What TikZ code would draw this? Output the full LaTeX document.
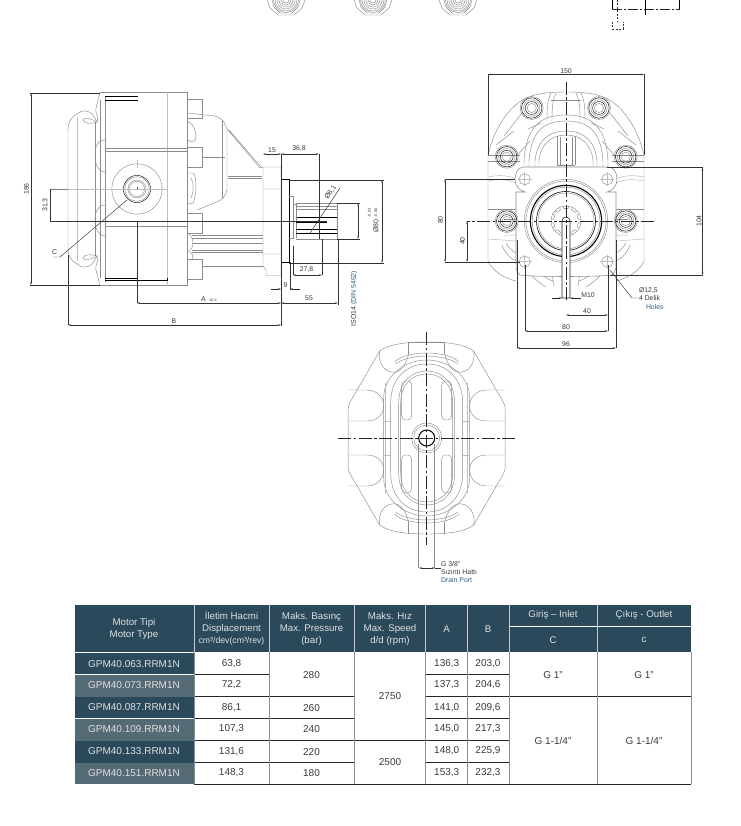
\documentclass[tikz,border=0pt]{standalone}
\usepackage{fontspec}
\setmainfont{Liberation Sans}
\usetikzlibrary{arrows.meta}
\definecolor{hdr}{HTML}{2A495B}
\definecolor{alt}{HTML}{546A74}
\definecolor{ln}{HTML}{8C8C8C}
\definecolor{lnl}{HTML}{BDBDBD}
\definecolor{tx}{HTML}{3A3A3A}
\definecolor{blu}{HTML}{2F5F80}
\tikzset{
 every node/.style={inner sep=0pt,outer sep=0pt,text=tx},
 part/.style={draw=ln,line width=.45pt},
 partl/.style={draw=lnl,line width=.5pt},
 bk/.style={draw=black,line width=.6pt},
 ext/.style={draw=black!80,line width=.45pt},
 dimn/.style={draw=black!80,line width=.45pt,{Stealth[length=3pt,width=1.6pt]}-{Stealth[length=3pt,width=1.6pt]}},
 cl/.style={draw=black!85,line width=.6pt,dash pattern=on 13pt off 2.5pt on 2.5pt off 2.5pt},
 dt/.style={font=\fontsize{6.9}{7}\selectfont},
 dts/.style={font=\fontsize{3.8}{4}\selectfont},
 th/.style={font=\fontsize{9.7}{12}\selectfont,text=white!88!black,align=center},
 td/.style={font=\fontsize{10}{11}\selectfont,text=tx,align=center},
 tn/.style={font=\fontsize{10}{11}\selectfont,text=white!88!black},
 grid/.style={draw=black!85,line width=.7pt},
 gridv/.style={draw=black!45,line width=.9pt},
 bolt/.pic={
  \draw[part] (0,0) circle (11.5);
  \draw[bk,line width=.45pt] (0,0) circle (10.2);
  \draw[part] (0,0) circle (8.2);
  \draw[bk,line width=.4pt] (0,0) circle (6.4);
  \draw[part] (0,0) circle (4.6);
 },
}
\begin{document}
\begin{tikzpicture}[x=1pt,y=-1pt]
\useasboundingbox (0,0) rectangle (740,826);
\fill[white] (0,0) rectangle (740,826);
\begin{scope}
\clip (0,0) rectangle (740,826);
% ---------- clipped fragments at the top
\foreach \cx in {286,373,458}{
 \foreach \r in {3,5,7,9,11,12.5}{\draw[part] (\cx,0) circle (\r);}
 \draw[part] (\cx-19,0) -- (\cx-16,8) -- (\cx-8,15) -- (\cx+8,15) -- (\cx+16,8) -- (\cx+19,0);
 \draw[part] (\cx-14,0) -- (\cx-12,7) -- (\cx-6,13) -- (\cx+6,13) -- (\cx+12,7) -- (\cx+14,0);
}
\draw[bk] (612,0) -- (612,9);
\draw[bk] (679.5,0) -- (679.5,9);
\draw[cl,dash pattern=on 10pt off 2pt on 2pt off 2pt] (612,9) -- (680,9);
\draw[bk] (645.5,0) -- (645.5,15);
\draw[draw=black!80,line width=.5pt,dash pattern=on 2pt off 1.5pt] (617,0) -- (617,22);
\draw[draw=black!80,line width=.5pt,dash pattern=on 2pt off 1.5pt] (612,22) -- (612,29) -- (623,29) -- (623,22);
% ---------- side view
\draw[part] (100,92.5) -- (187,92.5) -- (187,285.5) -- (100,285.5);
\draw[partl] (167,92.5) -- (167,285.5);
\draw[part] (105,96) -- (105,282);
\draw[part] (105,148) -- (187,148) (105,151.5) -- (187,151.5) (105,226) -- (187,226);
\draw[bk] (105,96) -- (138,96) (105,100.5) -- (138,100.5);
\draw[bk] (105,278.5) -- (138,278.5) (105,280.5) -- (167,280.5) (167,278) -- (167,281);
\draw[part] (100,92.5) -- (96,108) .. controls (95,112) and (97,114) .. (98,118) -- (97,122)
  .. controls (92,112) and (88,109) .. (80,112) -- (74,116) .. controls (70,120) and (68,123) .. (68,130)
  -- (68,248) .. controls (68,255) and (70,258) .. (74,262) -- (80,266)
  .. controls (88,269) and (92,266) .. (97,256) -- (98,260) .. controls (97,264) and (95,266) .. (96,270) -- (100,285.5);
\draw[partl] (77,117) -- (77,261);
\draw[part] (95,122) -- (95,256) (100,100) -- (100,278);
\draw[part] (97,122) .. controls (88,117) and (84,118) .. (83,120) .. controls (84,124) and (92,124) .. (97,122);
\draw[part] (97,256) .. controls (88,261) and (84,260) .. (83,258) .. controls (84,254) and (92,254) .. (97,256);
\draw[part] (105,140) .. controls (98,140) and (95,146) .. (95,155) .. controls (95,164) and (98,172) .. (105,172);
\draw[part] (105,205) .. controls (98,205) and (95,212) .. (95,220) .. controls (95,228) and (98,236) .. (105,236);
\draw[part] (137,189) circle (25.2);
\draw[bk,line width=.4pt] (137,189) circle (13.6);
\draw[part] (137,189) circle (12.3);
\draw[part] (137,189) circle (9);
\draw[part] (137,189) circle (7.6);
\draw[draw=black!70,line width=.4pt] (135.5,189) -- (138.5,189) (137,187.5) -- (137,190.5);
% bosses
\foreach \a/\b in {99/118,147/167,213/233,259/279}{\draw[part] (187,\a) -- (202,\a) -- (202,\b) -- (187,\b);}
\draw[part] (187,113) -- (205,115) .. controls (216,115) and (221,118) .. (224,122) -- (227,129) -- (227,190)
 .. controls (226,196) and (222,200) .. (217,202) .. controls (210,204) and (205,207) .. (197,210);
\draw[part] (222,120) -- (222,198) (202,157) -- (225,157);
\draw[part] (227,129) -- (260,168) (229,130) -- (262,168);
\draw[part] (188,122) .. controls (192,122) and (195,128) .. (196,136) .. controls (197,142) and (190,143) .. (188,140);
\draw[part] (188,173) -- (193,173) .. controls (197,176) and (197,195) .. (193,203) -- (188,204);
\draw[part] (191,178) .. controls (194,183) and (194,192) .. (191,198);
\draw[part] (187,232) .. controls (192,235) and (196,245) .. (190,250) (187,250) .. controls (192,252) and (196,258) .. (190,260);
\draw[part] (228,176) -- (262,176) (228,178) -- (262,178);
\draw[part] (192,235) -- (263,235) (192,238) -- (263,238) (192,243) -- (263,243) (192,250) -- (263,250) (192,252) -- (263,252) (202,266) -- (263,266);
% flange and shaft
\draw[part] (263,167) -- (281,167) -- (281,275.5) -- (266,275.5) -- (266,270) -- (263,266) -- (263,167);
\draw[part] (263,167) -- (260,168) (263,189) -- (281,189) (263,254) -- (281,254);
\draw[bk] (281,179.5) -- (289,179.5) (281,262.5) -- (289,262.5) (289,179.5) -- (289,262.5);
\draw[part] (289,196) -- (293,196) -- (293,238) -- (289,238) (293,204) -- (296,204) -- (296,238);
\draw[part] (296,203) -- (337,203) -- (337,239) -- (296,239);
\draw[part] (296,206) -- (337,206) (296,209) -- (337,209);
\draw[bk] (296,222) -- (327,222) (296,229) -- (337,229) (296,233.5) -- (337,233.5);
\draw[bk,line width=.9pt] (297,217.5) -- (337,217.5);
\draw[part] (319,203) -- (319,239);
% centre lines
\draw[partl] (68,189) -- (168,189) (137,160) -- (137,168);
% dims side
\draw[ext] (30,93) -- (100,93) (30,285) -- (100,285);
\draw[dimn] (31,93) -- (31,285);
\node[dt,rotate=90] (d186) at (26.5,189) {186};
\draw[ext] (50,221) -- (327,221);
\draw[draw=black!50,line width=.45pt] (50,189) -- (68,189);
\draw[ext] (50,189) -- (50,221);
\node[dt,rotate=90] (d313) at (45.5,205) {31,3};
\draw[ext] (127,200) -- (60,257) -- (53,257);
\node[dt] (dC) at (54.5,252.5) {C};
\draw[ext] (281,154) -- (281,326);
\draw[dimn] (263,154) -- (281,154);
\node[dt] (d15) at (272,150) {15};
\draw[dimn] (281,154) -- (319,154);
\draw[ext] (319,154) -- (319,239) (322,239) -- (322,275);
\node[dt] (d368) at (299,149) {36,8};
\draw[ext] (293,246) -- (293,275);
\draw[dimn] (293,275) -- (322,275);
\node[dt] (d278) at (306.5,270) {27,8};
\draw[ext] (340,188) -- (310,233);
\node[dt,rotate=55] (d81) at (330.5,192.5) {Ø8,1};
\draw[ext] (289,180) -- (384,180) (289,263) -- (384,263);
\draw[dimn] (382,180) -- (382,263);
\draw[ext] (337,203) -- (360,203) (337,239) -- (360,239);
\draw[dimn] (358,203) -- (358,239);
\node[dt,rotate=90] (d80) at (376,226) {Ø80};
\node[dts,rotate=90] (d80a) at (369.5,213) {-0,03};
\node[dts,rotate=90] (d80b) at (376,213) {-0,06};
\draw[ext] (338,239) -- (338,305);
\node[dt,rotate=90] (iso) at (354,298.5) {ISO14 \textcolor{blu}{(DIN 5462)}};
\draw[ext] (290,262) -- (290,290);
\draw[draw=black!85,line width=.5pt,-{Stealth[length=3pt,width=1.6pt]}] (271,289) -- (281,289);
\draw[draw=black!85,line width=.5pt,-{Stealth[length=3pt,width=1.6pt]}] (300,289) -- (290,289);
\node[dt] (d9) at (285.5,285) {9};
\draw[ext] (137,221) -- (137,303);
\draw[dimn] (137,303) -- (281,303);
\node[dt] (dA) at (203.5,299) {A};
\node[dts] (dAt) at (213,300) {±0,4};
\draw[dimn] (281,303) -- (338,303);
\node[dt] (d55) at (309,298.5) {55};
\draw[ext] (68,255) -- (68,325);
\draw[dimn] (68,325) -- (281,325);
\node[dt] (dB) at (174,321) {B};
% ---------- front view
\begin{scope}[shift={(566,221)}]
\foreach \s in {1,-1}{\begin{scope}[xscale=\s]
 \draw[part] (0,-129) .. controls (20,-129) and (32,-127) .. (42,-122) .. controls (58,-113) and (72,-92) .. (78,-66) -- (78,40)  .. controls (74,50) and (60,58) .. (50,60);
 \draw[part] (0,-121) -- (15,-121);
 \draw[part] (10,-128) .. controls (14,-120) and (14,-110) .. (14,-100) (15,-128) .. controls (19,-120) and (19,-110) .. (19,-100);
 \draw[part] (0,-106) .. controls (25,-106) and (40,-95) .. (42,-60) -- (42,-54);
 \draw[part] (0,-100) .. controls (22,-100) and (35,-90) .. (37,-60) -- (37,-54);
 \draw[part] (0,-90) .. controls (18,-90) and (29,-80) .. (31,-60) -- (31,-54);
 \draw[part] (0,-86) .. controls (15,-86) and (26,-76) .. (27,-60) -- (27,-54);
 \draw[part] (6,-84) -- (6,-56) (9,-85) -- (9,-56) (0,-56) -- (9,-56);
 \draw[part] (25,-98) -- (38,-92) (44,-108) -- (62,-85) (52,-90) -- (70,-76) (36,-80) -- (50,-64);
 \draw[part] (46,-66) -- (78,-66) (46,-60) -- (78,-60);
 \draw[partl] (50,-42) .. controls (58,-46) and (68,-46) .. (78,-44) (50,-38) .. controls (58,-42) and (68,-42) .. (78,-40);
 \draw[part] (50,-12) -- (78,-12) (50,-2) -- (62,-2);
 \draw[partl] (50,14) -- (62,14) (50,20) -- (78,18);
 \draw[part] (50,40) .. controls (58,36) and (62,30) .. (64,24) (50,32) .. controls (54,30) and (58,26) .. (60,22);
 \draw[part] (12,65) .. controls (14,50) and (16,45) .. (17,40) (42,42) .. controls (38,52) and (30,60) .. (20,66) (32,42) .. controls (28,52) and (20,58) .. (13,60);
\end{scope}}
\draw[draw=ln,line width=.55pt,fill=white] (-42,-54) -- (42,-54) .. controls (48,-54) and (51,-48) .. (51,-42) .. controls (51,-36) and (48,-31) .. (41,-29) -- (50,-29) -- (50,42) .. controls (50,48) and (50,50) .. (46,54) .. controls (30,56) and (-30,56) .. (-46,54) .. controls (-50,50) and (-50,48) .. (-50,42) -- (-50,-29) -- (-41,-29) .. controls (-48,-31) and (-51,-36) .. (-51,-42) .. controls (-51,-48) and (-48,-54) .. (-42,-54) -- cycle;
\foreach \x/\y in {-41.3/-41.7,41.3/-41.7,-41.3/40.7,41.3/40.7}{
 \draw[part] (\x,\y) circle (5.6);
 \draw[partl] (\x-7,\y) -- (\x+7,\y) (\x,\y-7) -- (\x,\y+7);
}
\draw[part] (0,0) circle (41.7);
\draw[part] (0,0) circle (40);
\draw[bk,line width=1.1pt] (0,0) circle (35.6);
\draw[part] (0,0) circle (33.8);
\draw[bk,line width=.55pt] (0,0) circle (29.5);
\draw[part] (0,0) circle (28);
\draw[part] (0,0) circle (15);
\foreach \a in {0,36,...,324}{\draw[part] (\a+8:12.5) arc[start angle=\a+8,end angle=\a+28,radius=12.5];
 \draw[part] (\a+8:12.5) -- (\a+8:15) (\a+28:12.5) -- (\a+28:15);}
\draw[draw=black!85,line width=.6pt,fill=white] (-4,0) arc[start angle=180,end angle=360,radius=4] -- (4,77) -- (-4,77) -- cycle;
\end{scope}
\foreach \x/\y in {531.7/108,599/108,506.7/156.7,625.7/156.7,506.7/221,625.7/221}{\pic at (\x,\y) {bolt};}
\draw[cl] (566,82) -- (566,300);
\draw[cl] (654,221) -- (467,221);
\draw[ext] (488,74) -- (488,155) (644,74) -- (644,155);
\draw[dimn] (488,74.5) -- (644,74.5);
\node[dt] (d150) at (566,71) {150};
\draw[ext] (445,179) -- (515,179) (445,262) -- (520,262);
\draw[dimn] (445,179) -- (445,262);
\node[dt,rotate=90] (d80l) at (440.5,220) {80};
\draw[dimn] (467,221) -- (467,262);
\node[dt,rotate=90] (d40l) at (462.5,241) {40};
\draw[ext] (607,167.3) -- (703,167.3) (610,275) -- (703,275);
\draw[dimn] (702.5,167.3) -- (702.5,275);
\node[dt,rotate=90] (d104) at (699,221) {104};
\draw[ext] (517,240) -- (517,348) (616,240) -- (616,348);
\draw[dimn] (517,348) -- (616,348);
\node[dt] (d96) at (566,344.5) {96};
\draw[ext] (525,265) -- (525,331) (608,265) -- (608,331);
\draw[dimn] (525,331) -- (608,331);
\node[dt] (d80b2) at (566,327.5) {80};
\draw[dimn] (566,315) -- (608,315);
\node[dt] (d40b) at (587,311) {40};
\draw[draw=black!85,line width=.5pt,-{Stealth[length=3pt,width=1.6pt]}] (552,298) -- (562,298);
\draw[draw=black!85,line width=.5pt,-{Stealth[length=3pt,width=1.6pt]}] (581,298) -- (570,298);
\node[dt] (dM) at (588,295) {M10};
\draw[ext] (610,270) -- (632,298) -- (638,298);
\node[dt,anchor=west] (dh1) at (639,290) {Ø12,5};
\node[dt,anchor=west] (dh2) at (639,298.5) {4 Delik};
\node[dt,anchor=west,text=blu] (dh3) at (646,307.5) {Holes};
% ---------- rear view
\begin{scope}[shift={(426.7,438)}]
\foreach \sx in {1,-1}{\foreach \sy in {1,-1}{\begin{scope}[xscale=\sx,yscale=\sy]
 \draw[part] (0,-96) .. controls (20,-96) and (38,-94) .. (47,-87) -- (76,-37) .. controls (78,-34) and (78.5,-32) .. (78.5,-28) -- (78.5,0);
 \draw[part] (18,-96) -- (18,-84);
 \draw[part] (47,-87) .. controls (49,-76) and (43,-64) .. (30,-66) .. controls (24,-68) and (20,-76) .. (18,-84);
 \draw[part] (78,-48) -- (60,-48) .. controls (49,-48) and (43,-40) .. (43,-32) .. controls (43,-24) and (49,-17) .. (60,-17) -- (78,-17);
 \draw[part] (0,-85) .. controls (15,-85) and (28,-81) .. (32,-76) (0,-82) .. controls (14,-82) and (27,-78) .. (31,-74);
 \draw[part] (0,-74) .. controls (20,-74) and (36,-60) .. (36,-35) -- (36,0);
 \draw[part] (0,-78) .. controls (22,-78) and (43,-62) .. (43,-40) -- (43,0);
 \draw[part] (0,-67) .. controls (15,-67) and (28,-56) .. (28,-35) -- (28,0);
 \draw[part] (0,-64) .. controls (14,-64) and (26,-54) .. (26,-35) -- (26,0);
 \draw[partl] (36,-17) -- (43,-17) (41,-55) -- (41,0);
\end{scope}}}
\foreach \sx in {1,-1}{\begin{scope}[xscale=\sx]
 \draw[part,rounded corners=4pt] (15,-57) rectangle (25,-18);
 \draw[part,rounded corners=4pt] (15,17) rectangle (25,55);
\end{scope}}
\draw[part] (-18,-96) -- (18,-96);
\draw[part] (0,0) circle (15);
\draw[part] (0,0) circle (13);
\draw[bk,line width=1pt] (0,0) circle (8);
\draw[part] (-8,6) -- (-8,130) (8,6) -- (8,130);
\end{scope}
\draw[cl] (338,438) -- (516,438);
\draw[cl] (426.7,332) -- (426.7,545);
\draw[dimn] (419,568) -- (435,568);
\draw[ext] (435,568) -- (441,568);
\node[dt,anchor=west] (dg1) at (441,564) {G 3/8"};
\node[dt,anchor=west] (dg2) at (441,572) {Sızıntı Hattı};
\node[dt,anchor=west,text=blu] (dg3) at (441,580) {Drain Port};
% ---------- table
\fill[hdr] (74.7,604.7) rectangle (691,652);
\foreach \a/\b/\c in {652.5/674/hdr,674.5/696.5/alt,697/718/hdr,719/740.5/alt,741/762.5/hdr,763/784/alt}{\fill[\c] (74.7,\a) rectangle (193.5,\b);}
\foreach \x in {194,269.3,354,425.7,467.7,509,597.3}{\draw[draw=white!80!black,line width=.7pt] (\x,604.7) -- (\x,652);}
\draw[draw=white,line width=.7pt] (509,626.5) -- (691,626.5);
% grid
\draw[grid] (194,674) -- (269,674) (425.7,674) -- (509,674);
\draw[grid] (194,696.5) -- (354,696.5) (425.7,696.5) -- (691,696.5);
\draw[grid] (194,718) -- (354,718) (425.7,718) -- (509,718);
\draw[grid] (194,740.5) -- (509,740.5);
\draw[grid] (194,762.5) -- (354,762.5) (425.7,762.5) -- (509,762.5);
\draw[grid] (194,784.3) -- (691,784.3);
\foreach \x in {194,269.3,354,425.7,467.7,509,597.3,691}{\draw[gridv] (\x,652) -- (\x,784.3);}
% header text
\node[th] (h1) at (134,629) {Motor Tipi\\Motor Type};
\node[th] (h2) at (231.5,628.5) {İletim Hacmi\\Displacement\\{\fontsize{8.7}{10}\selectfont cm³/dev(cm³/rev)}};
\node[th] (h3) at (311.5,629) {Maks. Basınç\\Max. Pressure\\(bar)};
\node[th] (h4) at (390,629) {Maks. Hız\\Max. Speed\\d/d (rpm)};
\node[th] (h5) at (446.7,629) {A};
\node[th] (h6) at (488,629) {B};
\node[th] (h7) at (553,615.5) {Giriş – Inlet};
\node[th] (h8) at (644,615.5) {Çıkış - Outlet};
\node[th] (h9) at (553,640) {C};
\node[th] (h10) at (644,640) {c};
% rows
\node[tn] (m1) at (134,664) {GPM40.063.RRM1N};
\node[tn] (m2) at (134,685.5) {GPM40.073.RRM1N};
\node[tn] (m3) at (134,707.5) {GPM40.087.RRM1N};
\node[tn] (m4) at (134,729.5) {GPM40.109.RRM1N};
\node[tn] (m5) at (134,751.5) {GPM40.133.RRM1N};
\node[tn] (m6) at (134,773.5) {GPM40.151.RRM1N};
\node[td] (v1) at (231.5,663.5) {63,8};
\node[td] (v2) at (231.5,685) {72,2};
\node[td] (v3) at (231.5,707.5) {86,1};
\node[td] (v4) at (231.5,729) {107,3};
\node[td] (v5) at (231.5,751.5) {131,6};
\node[td] (v6) at (231.5,773) {148,3};
\node[td] (p1) at (311.5,675) {280};
\node[td] (p2) at (311.5,708) {260};
\node[td] (p3) at (311.5,729.5) {240};
\node[td] (p4) at (311.5,752) {220};
\node[td] (p5) at (311.5,773.5) {180};
\node[td] (s1) at (390,696.5) {2750};
\node[td] (s2) at (390,762.5) {2500};
\foreach \nn/\y/\a/\b in {1/663.5/{136,3}/{203,0},2/685/{137,3}/{204,6},3/707.5/{141,0}/{209,6},4/729/{145,0}/{217,3},5/751/{148,0}/{225,9},6/773/{153,3}/{232,3}}{
 \node[td] (a\nn) at (446.7,\y) {\a};
 \node[td] (b\nn) at (488,\y) {\b};
}
\node[td] (c1) at (553,675) {G 1"};
\node[td] (c2) at (644,675) {G 1"};
\node[td] (c3) at (553,740.5) {G 1-1/4"};
\node[td] (c4) at (644,740.5) {G 1-1/4"};
\end{scope}
\end{tikzpicture}
\end{document}
